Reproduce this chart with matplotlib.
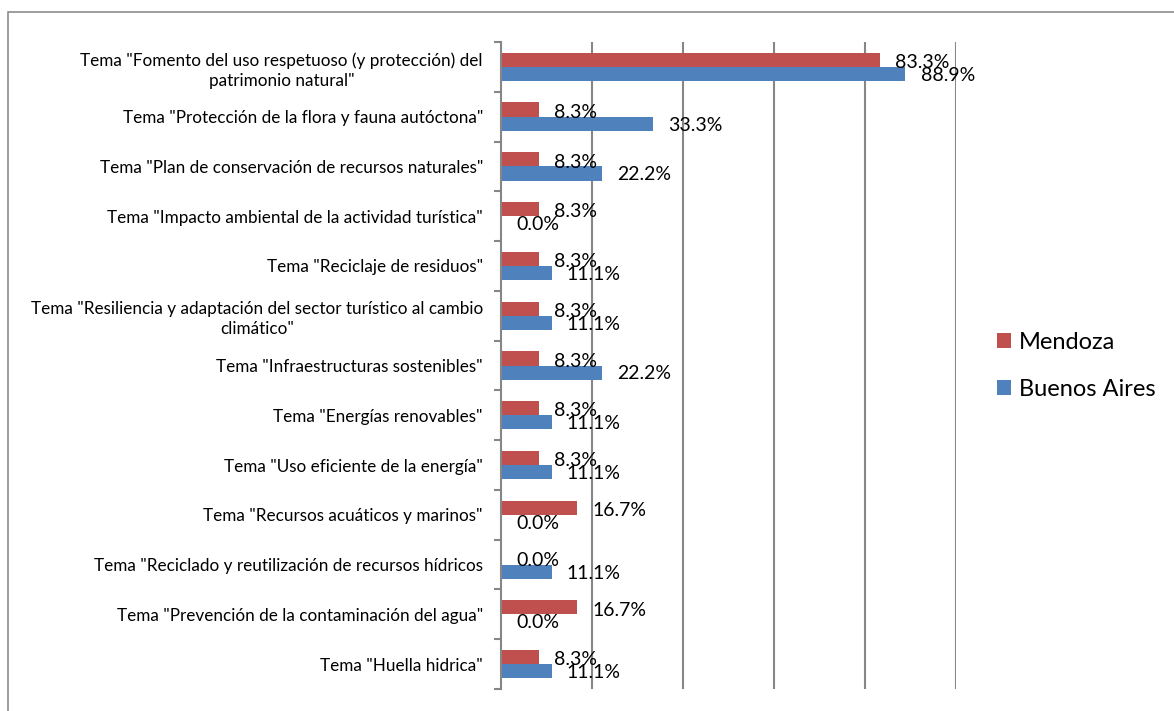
import matplotlib.pyplot as plt
import numpy as np
from matplotlib.patches import Rectangle

plt.rcParams['font.family'] = ['Lato', 'DejaVu Sans']

categories = [
    'Tema "Fomento del uso respetuoso (y protección) del\npatrimonio natural"',
    'Tema "Protección de la flora y fauna autóctona"',
    'Tema "Plan de conservación de recursos naturales"',
    'Tema "Impacto ambiental de la actividad turística"',
    'Tema "Reciclaje de residuos"',
    'Tema "Resiliencia y adaptación del sector turístico al cambio\nclimático"',
    'Tema "Infraestructuras sostenibles"',
    'Tema "Energías renovables"',
    'Tema "Uso eficiente de la energía"',
    'Tema "Recursos acuáticos y marinos"',
    'Tema "Reciclado y reutilización de recursos hídricos',
    'Tema "Prevención de la contaminación del agua"',
    'Tema "Huella hidrica"',
]
mendoza = [83.3, 8.3, 8.3, 8.3, 8.3, 8.3, 8.3, 8.3, 8.3, 16.7, 0.0, 16.7, 8.3]
buenos_aires = [88.9, 33.3, 22.2, 0.0, 11.1, 11.1, 22.2, 11.1, 11.1, 0.0, 11.1, 0.0, 11.1]

red = '#C0504D'
blue = '#4F81BD'
grid = '#868686'

fig = plt.figure(figsize=(11.74, 7.11), dpi=100)
ax = fig.add_axes([501 / 1174, 1 - 689 / 711, 455 / 1174, 647 / 711])

# outer chart frame (runs off the right and bottom edges)
fig.patches.append(Rectangle((8 / 1174, -0.05), 1.2, 1 - 12 / 711 + 0.05,
                             transform=fig.transFigure, fill=False,
                             edgecolor='#8c8c8c', linewidth=1.2))

y = np.arange(len(categories))
h = 0.285
b1 = ax.barh(y - h / 2, mendoza, height=h, color=red, label='Mendoza')
b2 = ax.barh(y + h / 2, buenos_aires, height=h, color=blue, label='Buenos Aires')

for bar, v in zip(b1, mendoza):
    ax.annotate(f'{v:.1f}%', (bar.get_width(), bar.get_y() + bar.get_height() / 2),
                xytext=(11, -2), textcoords='offset points',
                ha='left', va='center', fontsize=14)
for bar, v in zip(b2, buenos_aires):
    ax.annotate(f'{v:.1f}%', (bar.get_width(), bar.get_y() + bar.get_height() / 2),
                xytext=(11, -1), textcoords='offset points',
                ha='left', va='center', fontsize=14)

ax.set_xlim(0, 100)
ax.set_ylim(len(categories) - 0.5, -0.5)
ax.set_xticks([20, 40, 60, 80, 100])
ax.set_xticklabels([])
ax.tick_params(axis='x', length=0)
ax.grid(axis='x', color=grid, linewidth=1.5)
ax.set_axisbelow(True)

ax.set_yticks(y)
ax.set_yticklabels(categories, fontsize=12.3, multialignment='center', linespacing=1.3)
ax.set_yticks(np.arange(len(categories) + 1) - 0.5, minor=True)
ax.tick_params(axis='y', which='major', length=0, pad=13)
ax.tick_params(axis='y', which='minor', length=5, color=grid, width=1.5)

for s in ['top', 'right', 'bottom']:
    ax.spines[s].set_visible(False)
ax.spines['left'].set_color(grid)
ax.spines['left'].set_linewidth(1.5)

fig.legend(handles=[b1, b2], loc='center left', bbox_to_anchor=(997 / 1174, 1 - 366 / 711),
           frameon=False, fontsize=17, handlelength=0.6, handleheight=0.6,
           handletextpad=0.34, labelspacing=1.1, borderpad=0, borderaxespad=0)

fig.savefig('out.png', dpi=100)
